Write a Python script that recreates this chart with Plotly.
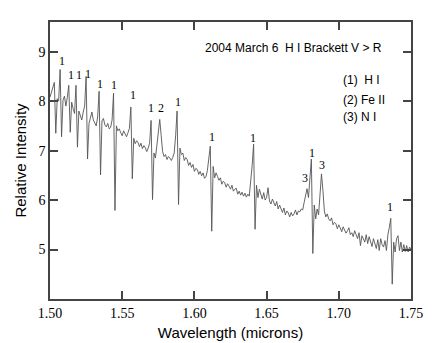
import numpy as np
import plotly.graph_objects as go

# spectrum sampled every 0.001 micron from 1.500 to 1.750
wl_start = 1.500
wl_step = 0.001
intensity = [
    8.08, 8.20, 8.30, 8.38, 7.35, 8.05, 8.00, 8.64, 7.28, 8.02,
    8.10, 7.90, 8.08, 8.32, 7.37, 7.98, 7.85, 7.75, 8.32, 7.07,
    7.80, 7.70, 7.62, 7.78, 7.90, 8.50, 6.83, 7.55, 7.70, 7.78,
    7.62, 7.55, 7.50, 7.68, 8.20, 6.51, 7.60, 7.65, 7.52, 7.48,
    7.55, 7.44, 7.47, 7.62, 8.16, 5.79, 7.50, 7.40, 7.44, 7.36,
    7.30, 7.40, 7.34, 7.28, 7.36, 7.45, 7.88, 6.43, 7.25, 7.14,
    7.20, 7.16, 7.08, 7.15, 7.04, 7.10, 7.06, 6.98, 7.05, 7.15,
    7.61, 6.01, 6.95, 6.85, 7.10, 7.40, 7.63, 7.30, 6.98, 6.88,
    6.92, 6.82, 6.88, 6.85, 6.80, 6.86, 6.95, 7.30, 7.80, 5.91,
    7.05, 6.92, 6.95, 6.80, 6.86, 6.82, 6.70, 6.76, 6.66, 6.72,
    6.58, 6.64, 6.62, 6.52, 6.58, 6.49, 6.55, 6.44, 6.47, 6.60,
    6.80, 7.09, 5.37, 6.68, 6.45, 6.55, 6.48, 6.40, 6.45, 6.32,
    6.38, 6.35, 6.26, 6.33, 6.28, 6.22, 6.30, 6.18, 6.22, 6.24,
    6.12, 6.18, 6.10, 6.16, 6.08, 6.14, 6.06, 6.12, 6.08, 6.35,
    6.70, 7.13, 5.41, 6.30, 6.05, 6.22, 6.10, 6.02, 6.15, 6.00,
    6.05, 6.25, 5.98, 5.92, 6.02, 5.95, 5.88, 5.97, 5.82, 5.90,
    5.84, 5.75, 5.84, 5.70, 5.78, 5.74, 5.66, 5.75, 5.68, 5.72,
    5.80, 5.70, 5.78, 5.76, 5.82, 5.80, 5.95, 6.10, 6.23, 6.05,
    6.40, 6.83, 4.92, 5.90, 5.62, 5.82, 5.70, 6.20, 6.53, 6.20,
    5.78, 5.66, 5.72, 5.62, 5.58, 5.64, 5.50, 5.55, 5.52, 5.42,
    5.50, 5.44, 5.36, 5.46, 5.40, 5.33, 5.38, 5.44, 5.30, 5.34,
    5.26, 5.38, 5.30, 5.22, 5.34, 5.08, 5.28, 5.20, 5.15, 5.30,
    5.12, 5.26, 5.18, 5.06, 5.22, 5.14, 5.02, 5.20, 4.98, 5.22,
    5.10, 5.05, 5.18, 4.98, 5.30, 5.45, 5.63, 4.30, 5.15, 4.95,
    5.22, 5.28, 4.98, 5.15, 4.95, 5.10, 4.96, 5.08, 4.95, 5.05,
    5.00,
]
wavelength = np.round(wl_start + wl_step * np.arange(len(intensity)), 3)

# line identifications: (1) H I, (2) Fe II, (3) N I
id_wl = [1.5083, 1.5145, 1.5200, 1.5262, 1.5345, 1.5442, 1.5573, 1.5698, 1.5767,
         1.5884, 1.6119, 1.6409, 1.6768, 1.6816, 1.6885, 1.7355]
id_y = [8.82, 8.52, 8.52, 8.54, 8.34, 8.32, 8.12, 7.86, 7.86,
        7.98, 7.27, 7.25, 6.45, 6.95, 6.71, 5.85]
id_label = ["1", "1", "1", "1", "1", "1", "1", "1", "2",
            "1", "1", "1", "3", "1", "3", "1"]

key_lines = ["(1)  H I", "(2) Fe II", "(3) N I"]
key_y = [8.42, 8.02, 7.67]

serif = "Liberation Serif"
sans = "Liberation Sans"

fig = go.Figure()
fig.add_trace(go.Scatter(x=wavelength, y=intensity, mode="lines",
                         line=dict(color="#555555", width=0.9), hoverinfo="skip"))

for w, y, t in zip(id_wl, id_y, id_label):
    fig.add_annotation(x=w, y=y, text=t, showarrow=False,
                       font=dict(family=serif, size=12, color="black"))

fig.add_annotation(x=1.6686, y=9.08, text="2004 March 6  H I Brackett V > R",
                   showarrow=False, font=dict(family=sans, size=12, color="black"))
for t, y in zip(key_lines, key_y):
    fig.add_annotation(x=1.7017, y=y, text=t, showarrow=False, xanchor="left",
                       font=dict(family=sans, size=12, color="black"))

axis_common = dict(showgrid=False, zeroline=False, showline=True, linecolor="#444",
                   linewidth=1.5, mirror="ticks", ticks="inside", ticklen=8,
                   tickcolor="#444", tickwidth=1.5,
                   tickfont=dict(family=serif, size=14, color="black"))

fig.update_xaxes(range=[1.50, 1.75], dtick=0.05, tickformat=".2f",
                 title=dict(text="Wavelength (microns)",
                            font=dict(family=sans, size=15, color="black"), standoff=8),
                 **axis_common)
fig.update_yaxes(range=[4, 9.6], tickvals=[5, 6, 7, 8, 9],
                 title=dict(text="Relative Intensity",
                            font=dict(family=sans, size=15, color="black"), standoff=8),
                 **axis_common)

fig.update_layout(width=436, height=343, showlegend=False,
                  margin=dict(l=41, r=33, t=14, b=50),
                  plot_bgcolor="white", paper_bgcolor="white")

fig.write_html("out.html")
